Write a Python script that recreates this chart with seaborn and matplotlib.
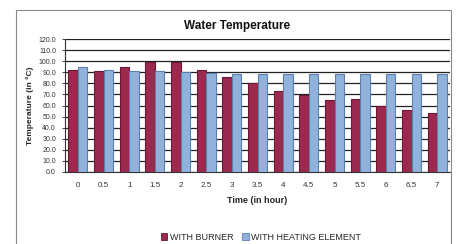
import matplotlib
matplotlib.use("Agg")
import matplotlib.pyplot as plt
import seaborn as sns
import pandas as pd
from matplotlib.patches import Rectangle

times = ["0", "0.5", "1", "1.5", "2", "2.5", "3", "3.5", "4", "4.5", "5", "5.5", "6", "6.5", "7"]
burner = [92, 91.5, 94.5, 99, 99.5, 92, 85.5, 80, 73.5, 69.5, 65, 66, 59.5, 55.5, 53]
heating = [94.5, 92, 91.5, 91, 90.5, 89, 88.5, 88.5, 88.5, 88.5, 88.5, 88.5, 88.5, 88.5, 88.5]
series = ["WITH BURNER", "WITH HEATING ELEMENT"]
yticks = [0, 10, 20, 30, 40, 50, 60, 70, 80, 90, 100, 110, 120]

df = pd.DataFrame({
    "time": times * 2,
    "temp": burner + heating,
    "series": [series[0]] * len(times) + [series[1]] * len(times),
})

sns.set_theme(style="white")
plt.rcParams["font.family"] = ["Liberation Sans", "DejaVu Sans"]

fig = plt.figure(figsize=(4.62, 2.44), dpi=100)
ax = fig.add_axes([65 / 462, 1 - 172 / 244, (450 - 65) / 462, (172 - 39) / 244])

palette = {series[0]: "#9C2A4E", series[1]: "#91B2DB"}
sns.barplot(data=df, x="time", y="temp", hue="series", order=times,
            hue_order=series, palette=palette, width=0.74, gap=0,
            ax=ax, legend=False, saturation=1, zorder=3)

edges = ["#6E1733", "#5C7FAE"]
for i, cont in enumerate(ax.containers):
    for p in cont:
        p.set_edgecolor(edges[i])
        p.set_linewidth(0.8)

ax.set_ylim(0, 120)
ax.set_xlim(-0.5, len(times) - 0.5)
ax.set_yticks(yticks)
ax.set_yticklabels([f"{v:.1f}" for v in yticks], fontsize=5, color="#333333")
ax.tick_params(axis="x", labelsize=5.8, colors="#333333", length=0, pad=7)
ax.tick_params(axis="y", length=2.5, width=0.6, color="#222222", left=True, pad=4)
ax.yaxis.grid(True, color="#222222", linewidth=0.9, zorder=0)
ax.set_axisbelow(True)
for s in ["top", "right"]:
    ax.spines[s].set_visible(False)
ax.spines["left"].set_color("#333333")
ax.spines["left"].set_linewidth(0.8)
ax.spines["bottom"].set_color("#333333")
ax.spines["bottom"].set_linewidth(0.8)

ax.set_xlabel("Time (in hour)", fontsize=6.5, fontweight="bold", labelpad=5)
ax.set_ylabel("Temperature (in °C)", fontsize=6, fontweight="bold", labelpad=3)
fig.text(237 / 462, 1 - 26 / 244, "Water Temperature", fontsize=8.5, fontweight="bold",
         ha="center", va="center", color="#111111")

handles = [Rectangle((0, 0), 1, 1, facecolor=palette[s], edgecolor=e, linewidth=0.6)
           for s, e in zip(series, edges)]
fig.legend(handles, series, loc="center", bbox_to_anchor=(0.565, 1 - 237 / 244), ncol=2,
           frameon=False, fontsize=6.5, handlelength=0.7, handleheight=0.7,
           handletextpad=0.3, columnspacing=1.0)

fig.patches.append(Rectangle((16 / 462, -0.1), (451 - 16) / 462, 1 - 10 / 244 + 0.1,
                             transform=fig.transFigure, fill=False,
                             edgecolor="#888888", linewidth=0.8))

fig.savefig("out.png", dpi=100)
